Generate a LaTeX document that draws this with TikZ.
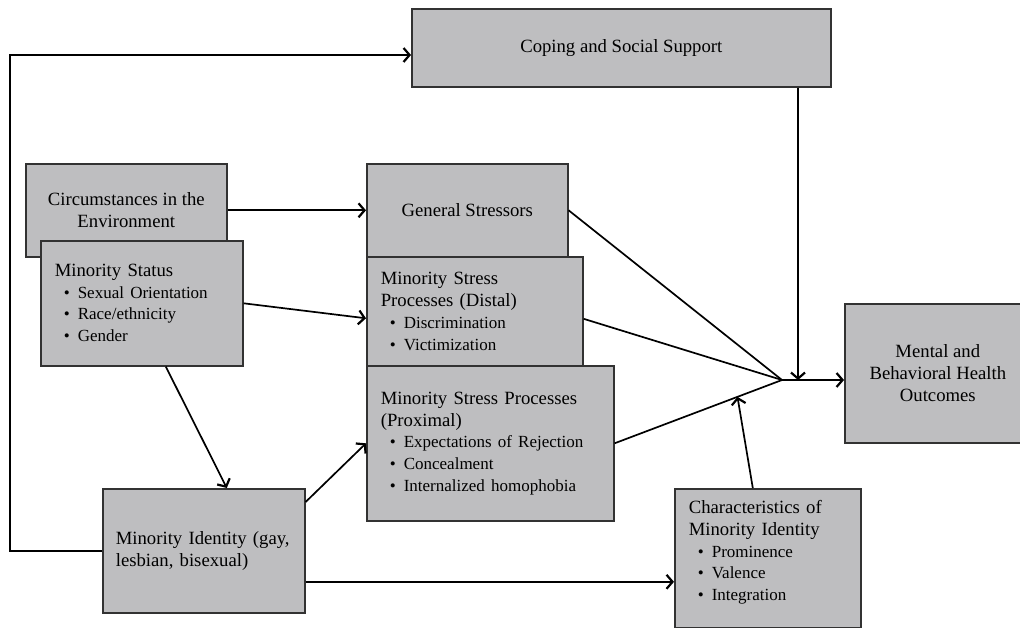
\documentclass[tikz,border=0pt]{standalone}
\usepackage{fontspec}
\setmainfont{Liberation Serif}
\usetikzlibrary{arrows.meta, calc}
\definecolor{boxgray}{RGB}{190,190,192}
\definecolor{edgegray}{RGB}{50,50,50}
\newcommand{\boxfont}{\fontsize{18.7}{22}\selectfont}
\newcommand{\itm}{\fontsize{17}{21.5}\selectfont\hspace*{9pt}\makebox[14pt][l]{\textbullet}}

\begin{document}
\begin{tikzpicture}[x=1pt, y=-1pt,
  box/.style={rectangle, draw=edgegray, fill=boxgray, line width=1.6pt,
    inner sep=0pt, anchor=north west, font=\boxfont, align=center},
  listbox/.style={box, align=left},
  arr/.style={-{Straight Barb[length=6pt, width=14pt, line width=2.2pt]}, line width=1.7pt},
  link/.style={line width=1.7pt}
]
  \useasboundingbox (0,0) rectangle (1020,628);

  \node[box, minimum width=419pt, minimum height=78pt] (coping) at (411,8) {Coping and Social Support};
  \node[box, minimum width=201pt, minimum height=93pt] (circum) at (25,163) {Circumstances in the\\Environment};
  \node[listbox, minimum width=202pt, minimum height=125pt, text width=174pt] (status) at (40,240)
    {Minority Status\\ \itm Sexual Orientation\\ \itm Race/ethnicity\\ \itm Gender};
  \node[box, minimum width=201pt, minimum height=93pt] (general) at (366,163) {General Stressors};
  \node[listbox, minimum width=216pt, minimum height=109pt, text width=188pt] (distal) at (366,256)
    {Minority Stress\\Processes (Distal)\\ \itm Discrimination\\ \itm Victimization};
  \node[listbox, minimum width=247pt, minimum height=155pt, text width=219pt] (proximal) at (366,365)
    {Minority Stress Processes\\(Proximal)\\ \itm Expectations of Rejection\\ \itm Concealment\\ \itm Internalized homophobia};
  \node[listbox, minimum width=202pt, minimum height=124pt, text width=176pt] (identity) at (102,488)
    {Minority Identity (gay,\\lesbian, bisexual)};
  \node[listbox, minimum width=186pt, minimum height=139pt, text width=158pt] (charac) at (674,488)
    {Characteristics of\\Minority Identity\\ \itm Prominence\\ \itm Valence\\ \itm Integration\par\nointerlineskip\rule{0pt}{12pt}};
  \node[box, minimum width=186pt, minimum height=139pt] (outcome) at (844,303)
    {Mental and\\Behavioral Health\\Outcomes};

  % junctions
  \coordinate (hub) at (782,380);
  \coordinate (cin) at (798,380);
  \coordinate (corner) at (10,55);

  \draw[arr] (circum) -- (general);
  \draw[arr] (status.east) -- ([yshift=-7pt]distal.west);
  \draw[arr] ([xshift=24pt]status.south) -- ([xshift=23pt]identity.north);
  \draw[arr] ([yshift=-14pt]identity.north east) -- (proximal.west);
  \draw[arr] ([yshift=-31pt]identity.east) -- ([yshift=-31pt]identity.east -| charac.west);
  \draw[arr] (identity.west) -| (corner) -- (corner -| coping.west);

  \draw[link] (general.east) -- (hub);
  \draw[link] ([yshift=-7.5pt]distal.east) -- (hub);
  \draw[link] (proximal.east) -- (hub);
  \draw[arr] (hub) -- (hub -| outcome.west);
  \draw[arr] (coping.south -| cin) -- (cin);
  \draw[arr] ([xshift=-15pt]charac.north) -- ($(proximal.east)!0.734!(hub)$);
\end{tikzpicture}
\end{document}
